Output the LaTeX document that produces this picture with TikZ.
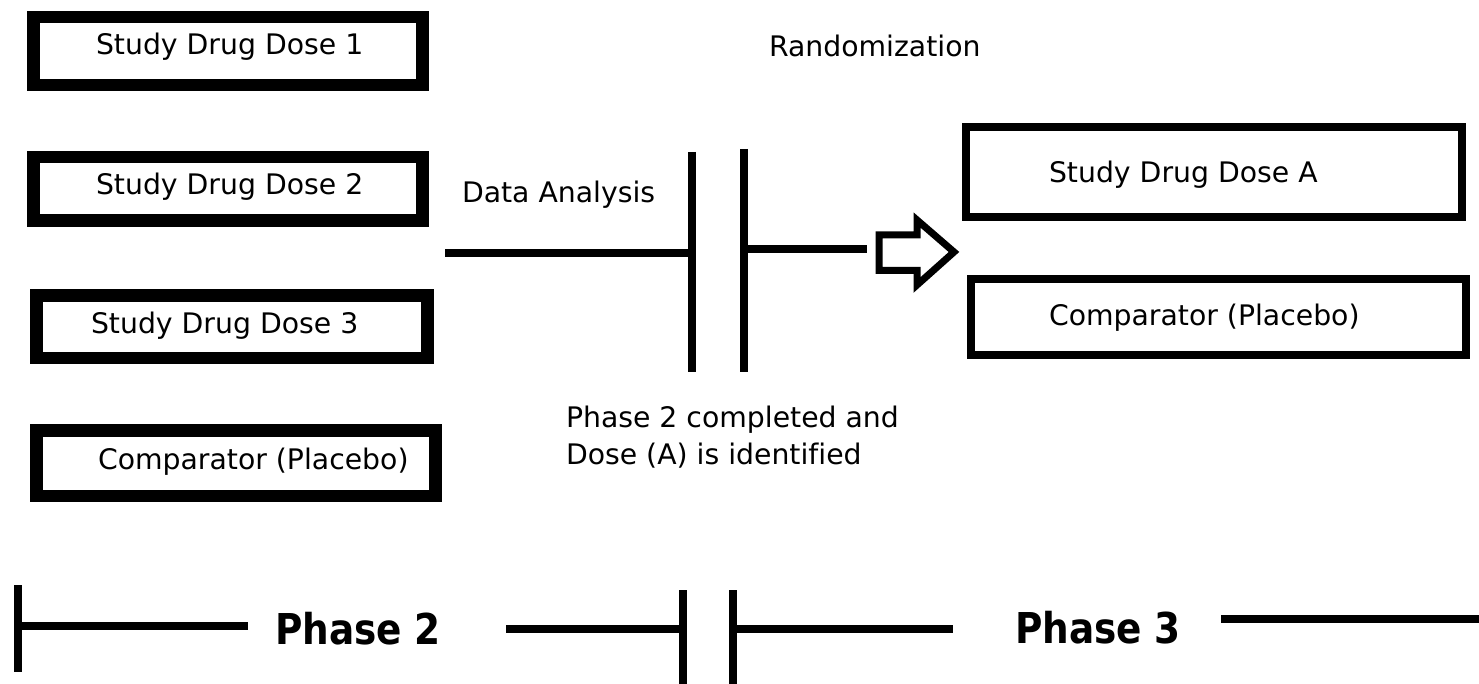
\documentclass[tikz,border=0pt]{standalone}
\usepackage{fontspec}
\setmainfont{DejaVu Sans}[Ligatures=NoCommon]
\newfontfamily\phasefont{DejaVu Sans}[FakeStretch=0.88,Ligatures=NoCommon]
\begin{document}
\begin{tikzpicture}[x=1pt,y=-1pt,
  thickbox/.style={draw=black,line width=12.5pt,inner sep=0pt,outer sep=0pt,fill=white},
  thinbox/.style={draw=black,line width=8pt,inner sep=0pt,outer sep=0pt,fill=white},
  lbl/.style={anchor=base west,inner sep=0pt,outer sep=0pt,text=black,font=\fontsize{28.3}{34}\selectfont},
  phase/.style={anchor=base west,inner sep=0pt,outer sep=0pt,text=black,font=\phasefont\bfseries\fontsize{42.5}{50}\selectfont},
  bar/.style={draw=black,line width=8pt,line cap=butt},
  hollow/.style={draw=black,line width=7pt,fill=white,line join=miter}]
\useasboundingbox[fill=white] (0,0) rectangle (1479,684);

% left boxes (phase 2 arms)
\node[thickbox,minimum width=389pt,minimum height=68pt] (b1) at (228,51) {};
\node[thickbox,minimum width=389pt,minimum height=63.5pt] (b2) at (228,188.75) {};
\node[thickbox,minimum width=391pt,minimum height=62.5pt] (b3) at (232,326.75) {};
\node[thickbox,minimum width=399pt,minimum height=65.5pt] (b4) at (236,463.25) {};
\node[lbl] (t1) at (96,55) {Study Drug Dose 1};
\node[lbl] (t2) at (96,195) {Study Drug Dose 2};
\node[lbl] (t3) at (91,333) {Study Drug Dose 3};
\node[lbl] (t4) at (98,469) {Comparator (Placebo)};

% right boxes (phase 3 arms)
\node[thinbox,minimum width=496pt,minimum height=89.5pt] (bA) at (1214,172.25) {};
\node[thinbox,minimum width=495pt,minimum height=76pt] (bC) at (1218.5,317) {};
\node[lbl] (tA) at (1049,182.5) {Study Drug Dose A};
\node[lbl] (tC) at (1049,326) {Comparator (Placebo)};

% free labels
\node[lbl] (rand) at (769,57) {Randomization};
\node[lbl] (data) at (462,203) {Data Analysis};
\node[lbl] (done1) at (566,427) {Phase 2 completed and};
\node[lbl] (done2) at (566,464) {Dose (A) is identified};

% middle separator
\coordinate (h1a) at (445,253);
\coordinate (h1b) at (692,253);
\coordinate (v1a) at (692,152);
\coordinate (v1b) at (692,372);
\coordinate (v2a) at (743.5,149);
\coordinate (v2b) at (743.5,372);
\coordinate (h2a) at (743.5,249);
\coordinate (h2b) at (867,249);
\draw[bar] (h1a) -- (h1b);
\draw[bar] (v1a) -- (v1b);
\draw[bar] (v2a) -- (v2b);
\draw[bar] (h2a) -- (h2b);

% hollow block arrow
\draw[hollow] (879,235) -- (917,235) -- (917,220) -- (954,252)
  -- (917,285) -- (917,270.5) -- (879,270.5) -- cycle;

% bottom timeline
\node[phase] (p2) at (275,644) {Phase 2};
\node[phase] (p3) at (1015,643) {Phase 3};
\coordinate (l0a) at (18,585);
\coordinate (l0b) at (18,672);
\coordinate (l1a) at (18,626);
\coordinate (l1b) at (248,626);
\coordinate (l2a) at (506,629);
\coordinate (l2b) at (683,629);
\coordinate (l3a) at (683,590);
\coordinate (l3b) at (683,684);
\coordinate (l4a) at (733,590);
\coordinate (l4b) at (733,684);
\coordinate (l5a) at (733,629);
\coordinate (l5b) at (953,629);
\coordinate (l6a) at (1221,619);
\coordinate (l6b) at (1479,619);
\draw[bar] (l0a) -- (l0b);
\draw[bar] (l1a) -- (l1b);
\draw[bar] (l2a) -- (l2b);
\draw[bar] (l3a) -- (l3b);
\draw[bar] (l4a) -- (l4b);
\draw[bar] (l5a) -- (l5b);
\draw[bar] (l6a) -- (l6b);
\end{tikzpicture}
\end{document}
